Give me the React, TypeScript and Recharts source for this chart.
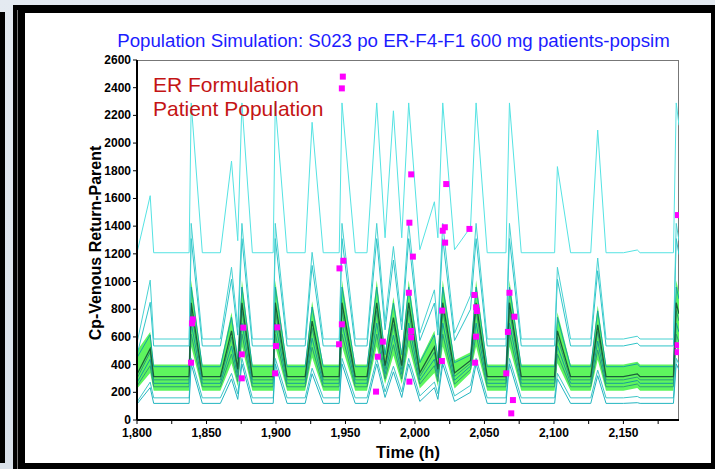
import React from "react";
import {
  ComposedChart,
  Line,
  Area,
  Scatter,
  XAxis,
  YAxis,
} from "recharts";

// sample times (h)
const TIMES = [
  1800, 1809.5, 1812, 1837.5, 1839, 1847, 1860, 1868, 1872.5, 1875.5, 1883, 1898, 1899.5, 1908, 1921, 1926, 1934,
  1945.5, 1947.5, 1957, 1965.5, 1972.5, 1978.5, 1984.5, 1990.5, 1995.5, 2003.5, 2014, 2016.5, 2020, 2028.5, 2040,
  2044, 2052, 2065.5, 2068, 2076.5, 2100.5, 2102.5, 2112, 2126.5, 2131.5, 2137.5, 2150, 2160, 2162, 2186, 2188, 2190,
];

// simulated individuals
const S1 = [1208,1620,1208,1208,2290,1208,1208,1870,1295,2290,1208,1208,2290,1208,1208,2150,1208,1208,2290,1208,1208,2290,1316,2233,1316,2290,1230,1576,1316,2290,1230,1392,2290,1208,1208,2290,1208,1208,1830,1208,1208,2094,1208,1208,1228,1208,1208,2290,2128];
const S2 = [555,1010,585,585,1420,585,585,1103,669,1420,585,585,1420,585,585,1211,585,585,1420,585,585,1420,710,1253,710,1420,627,940,669,1420,627,900,1420,585,585,1420,585,585,1103,585,585,1170,585,585,605,585,585,1420,1295];
const S3 = [470,850,535,535,1310,535,535,1016,613,1310,535,535,1310,535,535,1116,535,535,1310,535,535,1310,651,1155,651,1310,574,845,613,1310,574,800,1310,535,535,1310,535,535,1016,535,535,1078,535,535,555,535,535,1310,1194];
const G1 = [450,615,385,385,960,385,385,742,443,960,385,385,960,385,385,816,385,385,960,385,385,960,471,845,471,960,414,615,443,960,414,470,960,385,385,960,385,385,742,385,385,788,385,385,405,385,385,960,874];
const MED = [330,515,313,313,847,313,313,644,366,847,313,313,847,313,313,714,313,313,847,313,313,847,393,740,393,847,340,527,366,847,340,430,847,313,313,847,313,313,644,313,313,687,313,313,333,313,313,847,767];
const G2 = [300,490,290,290,790,290,290,600,340,790,290,290,790,290,290,665,290,290,790,290,290,790,365,690,365,790,315,490,340,790,315,410,790,290,290,790,290,290,600,290,290,640,290,290,310,290,290,790,715];
const G3 = [270,439,265,265,700,265,265,535,309,700,265,265,700,265,265,591,265,265,700,265,265,700,330,613,330,700,287,439,309,700,287,390,700,265,265,700,265,265,535,265,265,570,265,265,285,265,265,700,635];
const G4 = [245,392,240,240,620,240,240,476,278,620,240,240,620,240,240,525,240,240,620,240,240,620,297,544,297,620,259,392,278,620,259,365,620,240,240,620,240,240,476,240,240,506,240,240,260,240,240,620,563];
const L1 = [130,274,160,160,445,160,160,337,189,445,160,160,445,160,160,374,160,160,445,160,160,445,203,388,203,445,174,274,189,445,174,250,445,160,160,445,160,160,337,160,160,360,160,160,170,160,160,445,402];
const L2 = [115,234,120,120,405,120,120,297,149,405,120,120,405,120,120,334,120,120,405,120,120,405,163,348,163,405,134,234,149,405,134,200,405,120,120,405,120,120,297,120,120,320,120,120,125,120,120,405,362];

// percentile band
const BAND_HI = [500,635,400,400,1010,400,400,778,461,1010,400,400,1010,400,400,858,400,400,1010,400,400,1010,492,888,492,1010,431,644,461,1010,431,490,1010,400,400,1010,400,400,778,400,400,827,400,400,420,400,400,1010,919];
const BAND_LO = [225,339,212,212,530,212,212,409,244,530,212,212,530,212,212,451,212,212,530,212,212,530,260,466,260,530,228,339,244,530,228,340,530,212,212,530,212,212,409,212,212,435,212,212,232,212,212,530,482];

// observed data
const OBS_T = [1948.1,1947.4,1997.3,2022.5,1996,2021.5,2020,2039.2,2189.2,2021.7,1998.5,1995.6,2042.8,2068,2019.6,2044,2044.6,2071.6,1997.3,1997.3,2044,2066.9,1976.9,1973.3,2019.4,2043.3,2065.7,1996,1972,2070.5,2069.3,2189,2189,1840.1,1839.6,1838.9,1876.5,1875.4,1875.4,1901,1900,1899.4,1945.7,1948.5,1947.4,1945.4];
const OBS_V = [2480,2395,1774,1704,1425,1392,1367,1380,1480,1281,1180,919,903,919,790,814,787,746,643,597,602,636,566,457,426,414,337,277,205,144,48,540,490,727,698,414,667,474,301,669,534,337,1095,1150,691,547];

const Y_TICKS = [0,200,400,600,800,1000,1200,1400,1600,1800,2000,2200,2400,2600];
const X_TICKS = [1800,1825,1850,1875,1900,1925,1950,1975,2000,2025,2050,2075,2100,2125,2150,2175];

const rows = TIMES.map((t, i) => ({
  t,
  s1: S1[i], s2: S2[i], s3: S3[i],
  g1: G1[i], med: MED[i], g2: G2[i], g3: G3[i], g4: G4[i],
  l1: L1[i], l2: L2[i],
  band: [BAND_LO[i], BAND_HI[i]],
}));
const obs = OBS_T.map((t, i) => ({ t, v: OBS_V[i] }));

const FONT = "'Liberation Sans', Arial, sans-serif";

const YTick = ({ x, y, payload }: any) => (
  <text x={x} y={y} dy={4} textAnchor="end" fontFamily={FONT} fontWeight="bold" fontSize={12} fill="#000">
    {payload.value}
  </text>
);

const XTick = ({ x, y, payload }: any) =>
  payload.value % 50 === 0 ? (
    <text x={x} y={y} dy={11} textAnchor="middle" fontFamily={FONT} fontWeight="bold" fontSize={12} fill="#000">
      {payload.value.toLocaleString("en-US")}
    </text>
  ) : (
    <g />
  );

const Square = ({ cx, cy }: any) => <rect x={cx - 3} y={cy - 3} width={6} height={6} fill="#ff00ff" />;

export default function App() {
  const lineProps = { type: "linear" as const, dot: false, isAnimationActive: false, strokeWidth: 1 };
  return (
    <div style={{ position: "absolute", left: 0, top: 0, width: 715, height: 469, background: "linear-gradient(#e4eaf1, #d9e1ea)", overflow: "hidden" }}>
      <div style={{ position: "absolute", left: 0, top: 12, width: 5, height: 451, background: "#000" }} />
      <div style={{ position: "absolute", left: 13, top: 5, width: 702, height: 464, background: "#000" }} />
      <div style={{ position: "absolute", left: 17, top: 10, width: 1, height: 459, background: "#777" }} />
      <div style={{ position: "absolute", left: 25, top: 13, width: 686, height: 450, background: "#fff" }} />
      <div style={{ position: "absolute", left: 137, top: 60, width: 541, height: 359, borderTop: "1px solid #777", borderRight: "1px solid #777" }} />

      <div style={{ position: "absolute", left: 0, top: 0 }}>
        <ComposedChart width={715} height={469} data={rows} margin={{ top: 60, right: 36, bottom: 0, left: 0 }}>
          <XAxis
            dataKey="t"
            type="number"
            domain={[1800, 2190]}
            ticks={X_TICKS}
            tick={<XTick />}
            interval={0}
            allowDataOverflow
            height={49}
            axisLine={{ stroke: "#000", strokeWidth: 2 }}
            tickLine={{ stroke: "#000" }}
            tickSize={4}
            tickMargin={2}
          />
          <YAxis
            type="number"
            domain={[0, 2600]}
            ticks={Y_TICKS}
            tick={<YTick />}
            interval={0}
            width={137}
            axisLine={{ stroke: "#000", strokeWidth: 2 }}
            tickLine={{ stroke: "#000" }}
            tickSize={4}
            tickMargin={2}
          />
          <Area dataKey="band" type="linear" stroke="none" fill="#5ef55e" fillOpacity={1} isAnimationActive={false} />
          <Line dataKey="g1" stroke="#16a3a3" {...lineProps} />
          <Line dataKey="g2" stroke="#2a9d7a" {...lineProps} />
          <Line dataKey="g3" stroke="#169c9c" {...lineProps} />
          <Line dataKey="g4" stroke="#2a9d7a" {...lineProps} />
          <Line dataKey="med" stroke="#1a5e3a" {...lineProps} strokeWidth={1.3} />
          <Line dataKey="l1" stroke="#3cc6c6" {...lineProps} />
          <Line dataKey="l2" stroke="#22b5c0" {...lineProps} />
          <Line dataKey="s3" stroke="#2fc4c8" {...lineProps} />
          <Line dataKey="s2" stroke="#48d2d2" {...lineProps} />
          <Line dataKey="s1" stroke="#55e3e3" {...lineProps} />
          <Scatter data={obs} dataKey="v" shape={<Square />} isAnimationActive={false} />
        </ComposedChart>
      </div>

      <div style={{ position: "absolute", left: 0, width: 787, top: 30, textAlign: "center", fontFamily: FONT, fontSize: 18.7, color: "#1c1cff", whiteSpace: "nowrap" }}>
        Population Simulation: S023 po ER-F4-F1 600 mg patients-popsim
      </div>
      <div style={{ position: "absolute", left: 153, top: 73, fontFamily: FONT, fontSize: 21, color: "#c41414", lineHeight: "24px", whiteSpace: "nowrap" }}>
        ER Formulation
        <br />
        Patient Population
      </div>
      <div style={{ position: "absolute", left: 96, top: 243, transform: "translate(-50%, -50%) rotate(-90deg)", fontFamily: FONT, fontWeight: "bold", fontSize: 16, color: "#000", whiteSpace: "nowrap" }}>
        Cp-Venous Return-Parent
      </div>
      <div style={{ position: "absolute", left: 408, top: 452, transform: "translate(-50%, -50%)", fontFamily: FONT, fontWeight: "bold", fontSize: 16.5, color: "#000", whiteSpace: "nowrap" }}>
        Time (h)
      </div>
    </div>
  );
}
